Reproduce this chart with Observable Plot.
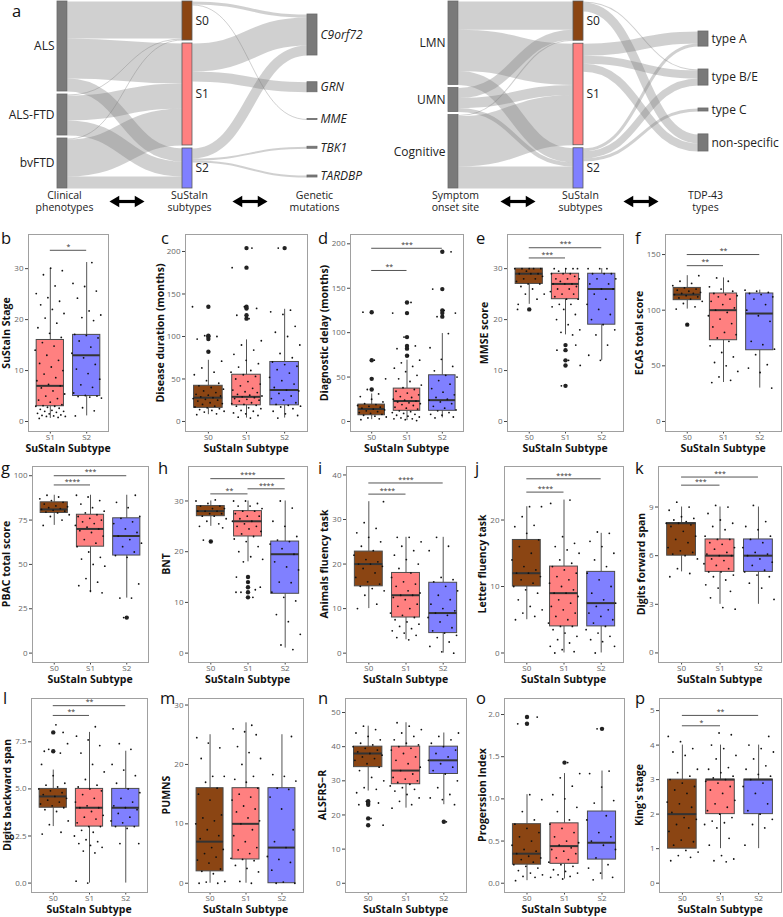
<!DOCTYPE html>
<html><head><meta charset="utf-8">
<script src="https://cdn.jsdelivr.net/npm/d3@7"></script>
<script src="https://cdn.jsdelivr.net/npm/@observablehq/plot@0.6"></script>
<style>
body{margin:0;background:#fff;}
#fig{position:relative;width:783px;height:917px;overflow:hidden;font-family:"Open Sans",sans-serif;background:#fff;}
.plot{position:absolute;}
.letter{position:absolute;font-size:16.5px;line-height:1;color:#111;}
.xt{position:absolute;font-weight:700;font-size:10.5px;line-height:1.1;white-space:nowrap;transform:translateX(-50%);color:#111;}
.yt{position:absolute;font-weight:700;font-size:10.5px;line-height:1.1;white-space:nowrap;transform:translate(-50%,-50%) rotate(-90deg);color:#111;}
</style></head><body><div id="fig"></div><script>
// ---------------- Sankey data ----------------
const phenotypes = ["ALS","ALS-FTD","bvFTD"];
const subtypes = ["S0","S1","S2"];
const genes = ["C9orf72","GRN","MME","TBK1","TARDBP"];
const phenoLinks = [["ALS","S0",37],["ALS","S1",40],["ALS","S2",13],["ALS-FTD","S0",1],["ALS-FTD","S1",25],["ALS-FTD","S2",15],["bvFTD","S0",1],["bvFTD","S1",37],["bvFTD","S2",12]];
const geneLinks = [["S0","C9orf72",3],["S0","MME",1],["S1","C9orf72",28],["S1","GRN",10],["S2","C9orf72",10],["S2","TBK1",2],["S2","TARDBP",2]];
const onsets = ["LMN","UMN","Cognitive"];
const tdpTypes = ["type A","type B/E","type C","non-specific"];
const onsetLinks = [["LMN","S0",28],["LMN","S1",41],["LMN","S2",14],["UMN","S0",10],["UMN","S1",10],["UMN","S2",4],["Cognitive","S0",1],["Cognitive","S1",50],["Cognitive","S2",22]];
const tdpLinks = [["S0","type B/E",1],["S0","non-specific",9],["S1","type A",12],["S1","type B/E",8],["S1","non-specific",8],["S2","type A",3],["S2","type B/E",7],["S2","type C",3]];
const leftTitles = [["Clinical","phenotypes"],["SuStaIn","subtypes"],["Genetic","mutations"]];
const rightTitles = [["Symptom","onset site"],["SuStaIn","subtypes"],["TDP-43","types"]];

// ---------------- Box plot data ----------------
// [group, whisker low, Q1, median, Q3, whisker high]
const b_box = [["S1",0.6,3,7,16,30],["S2",1.1,5,13,17,31.2]];
const b_out = {};
const b_pts = {S1:[0.6,0.8,1,1,1.1,1.2,1.3,1.5,1.6,1.8,2,2,2.2,2.4,2.6,2.8,3,3,3.1,3.3,3.8,4.2,4.5,5,5.4,6,6.6,7,7.3,8,8.6,9.3,10,10.7,11.4,12,13,14,14.8,15.5,16.5,17.3,18.4,19.3,20.3,21.2,22,22.9,23.6,24.3,25.1,26.6,28.8,29.6,30.1],
  S2:[1.1,2.1,2.7,4.6,4.8,4.9,5,5.1,5.6,6.7,7.2,8.3,9.4,10.3,11.2,12.5,13.4,14.6,15.8,16.4,16.9,17.1,19.8,20.4,20.9,21.7,24.2,25.6,26.5,27.1,31.2]};
const b_sig = [["S1","S2",33.6,"*"]];

const c_box = [["S0",8,16,28,42,72],["S1",4,19,29,55,96],["S2",4,19,37,70,132]];
const c_out = {S0:[82,97,100,101,135],S1:[121,125,133,135,181,204],S2:[204]};
const c_pts = {S0:[8,9,11,12,13,14,15,16,17,18,20,21,22,24,25,26,27,28,29,30,31,32,34,36,38,40,42,45,48,55,58,63,71],
  S1:[4,5,7,9,10,12,13,15,16,18,19,20,21,22,24,25,26,27,28,29,30,31,32,34,35,37,39,42,44,47,50,53,55,58,60,64,68,72,79,84,90,95],
  S2:[4,7,9,12,15,17,18,19,20,22,25,27,30,33,36,37,40,44,48,52,57,61,65,67,70,75,80,90,100,105,112,126,129,131]};
const c_sig = [];

const d_box = [["S0",2,7,14,19,31],["S1",1,12,23,37,69],["S2",4,12,24,52,99]];
const d_out = {S0:[36,48,69,123],S1:[74,82,85,95,122,134],S2:[118,122,125,149,191]};
const d_pts = {S0:[2,3,4,5,6,7,8,9,10,11,12,13,14,15,16,17,18,19,20,22,25,28,31],
  S1:[1,2,3,3,4,5,6,7,8,9,10,11,12,14,15,16,18,19,20,21,22,23,24,25,27,28,30,32,34,36,38,41,45,48,52,56,60,62,66,69],
  S2:[4,5,7,8,10,12,13,15,17,20,22,24,25,27,30,33,37,42,46,50,52,57,62,70,83,99]};
const d_sig = [["S0","S1",170,"**"],["S0","S2",195,"***"]];

const e_box = [["S0",23,27,29,30,30],["S1",17,24,27,29,30],["S2",12,19,26,29,30]];
const e_out = {S0:[22],S1:[7,11,12,14,15]};
const e_pts = {S0:[23,24,25,25,26,26.5,27,27,27.5,28,28,28.5,29,29,29,29.5,30,30,30,30,30],
  S1:[17,17.5,18,19,20,21,22,22.5,23,23,24,24,24.5,25,25,25.5,26,26,26.5,27,27,27,27.5,28,28,28,28.5,29,29,29,29.5,30,30,30,30],
  S2:[12,13,15,17,18,19,20,21,22,23,24,25,26,26,27,27,28,28,29,29,29,30,30,30]};
const e_sig = [["S0","S1",32.1,"***"],["S0","S2",34.1,"***"]];

const f_box = [["S0",101,109,114,120,131],["S1",35,73,100,115,129],["S2",30,64,97,115,118]];
const f_out = {S0:[87]};
const f_pts = {S0:[101,103,106,108,110,111,112,113,114,115,115,116,117,118,119,120,122,124,126,131],
  S1:[35,37,40,45,50,53,58,62,68,72,75,78,80,85,88,92,95,98,100,102,105,108,110,112,113,114,115,117,119,121,126,129],
  S2:[30,44,48,51,60,65,69,72,90,95,100,105,110,112,114,115,116,117,118]};
const f_sig = [["S0","S1",140,"**"],["S0","S2",150,"**"]];

const g_box = [["S0",72,79,81,85,89],["S1",34,60,70,78,89],["S2",31,55,66,76,89]];
const g_out = {S2:[20]};
const g_pts = {S0:[72,75,77,78,79,79.5,80,80.5,81,81.5,82,82.5,83,84,85,86,87,88,89],
  S1:[34,35,38,40,42,49,50,53,54,57,60,62,64,66,68,69,70,71,72,73,74,75,76,77,78,79,80,82,84,86,88,89],
  S2:[31,31,39,54,55,57,60,62,64,66,68,70,73,74,76,77,82,85,89]};
const g_sig = [["S0","S1",94.8,"****"],["S0","S2",100,"***"]];

const h_box = [["S0",25,27,28,29,30],["S1",18,23,26,28,30],["S2",1,11.7,19.5,22,30]];
const h_out = {S0:[22],S1:[11,12,13,14,15]};
const h_pts = {S0:[25,25.5,26,26.5,27,27,27.5,27.5,28,28,28,28.5,28.5,29,29,29.5,30,30.2,22.3,24.7],
  S1:[12,12.5,18,18.5,19,20,21,22,22.5,23,23.5,24,24.5,25,25,25.5,26,26,26.5,27,27,27.5,28,28,28.5,29,29,29.5,30,30],
  S2:[0.7,1.6,3.7,6.2,7.6,10.3,11,12,13.9,14,16.4,17,18,19.5,20.6,21.5,22,22.3,23,25,26,28.6,30]};
const h_sig = [["S0","S1",31.4,"**"],["S1","S2",32.4,"****"],["S0","S2",34.4,"****"]];

const i_box = [["S0",10,15,20,22.8,34],["S1",3,8,13,18,26],["S2",0,4.5,9,15.8,26]];
const i_out = {};
const i_pts = {S0:[10,11,13,14,14.5,15,15.5,16,17,18,19,19.5,20,20,20.5,21,22,23,24,25,26,27,28,29.3,34],
  S1:[3,3.5,4,4.5,5,5.5,6,6.5,7,7.5,8,8.5,9,10,10.5,11,12,12.5,13,13,13.5,14,15,15.5,16,17,18,19,20,21,22,23,24,25,26,26],
  S2:[0,0.3,1.5,2.5,3.5,4,4.5,5,5.7,7,8,8.5,9,9.5,10,11,12,13,14,15,16,16.5,17,23,24,26]};
const i_sig = [["S0","S1",35.7,"****"],["S0","S2",38.2,"****"]];

const j_box = [["S0",5,10,12,17,22],["S1",0,4,9,13,23],["S2",0,4,7.5,12.2,18]];
const j_out = {};
const j_pts = {S0:[5,5.5,6,6.5,7,8,9,9.5,10,10.5,11,11.5,12,12,12.5,13,14,15,16,17,18,19,19.2,20.5,22,22],
  S1:[0,0.2,0.5,1,1.5,2,2.5,3,3.5,4,4,4.5,5,5.5,6,6.5,7,7.5,8,8.5,9,9,9.5,10,10.5,11,11.5,12,12.5,13,13.5,14,15,15.5,16,16.5,17.5,22.5,23],
  S2:[0,1,1.7,2,2.5,3,3.5,4,4.5,5,5.5,6,6.5,7,7.5,8,9,10,11,12,13,14,15,16,16.8,18,18.2]};
const j_sig = [["S0","S1",24.2,"****"],["S0","S2",26.2,"****"]];

const k_box = [["S0",5,6,8,8,9],["S1",3,5,6,7,9],["S2",3,5,6,7,9]];
const k_out = {};
const k_pts = {S0:[4.7,4.9,5.2,5.8,6,6.1,6.2,6.3,6.5,6.8,7,7.2,7.5,7.8,7.9,8,8,8.1,8.2,8.3,8.4,8.8,9,9.3],
  S1:[2.7,2.8,3.4,3.8,4,4.2,4.5,4.7,4.8,5,5,5.2,5.4,5.5,5.7,5.8,6,6,6.1,6.2,6.4,6.5,6.7,6.8,7,7,7.2,7.6,7.8,8,8.2,8.6,9,9.1],
  S2:[3.3,4,4.3,4.7,4.8,5,5.1,5.4,5.6,5.8,6,6.1,6.2,6.5,6.8,7,7.2,7.6,7.8,8.1,9.1]};
const k_sig = [["S0","S1",10.35,"***"],["S0","S2",10.85,"***"]];

const l_box = [["S0",3,4,4.6,5,6],["S1",0,3,4,5,8],["S2",0,3,4,5,7]];
const l_out = {S0:[7,8]};
const l_pts = {S0:[2.6,2.7,3.1,3.3,3.8,3.9,4,4.1,4.2,4.3,4.4,4.5,4.6,4.7,4.8,4.9,5,5.1,5.2,5.3,5.7,6.3,6.9,7.1,7.4,8.4],
  S1:[0,0.1,1.6,1.7,1.9,2,2.1,2.2,2.3,2.5,2.7,2.8,3,3,3.2,3.4,3.5,3.6,3.8,4,4,4.1,4.3,4.5,4.7,4.9,5,5.1,5.2,5.5,5.9,6.3,6.9,7.3,7.6,7.8,8.3],
  S2:[2.1,2.1,2.9,3,3,3.2,3.3,3.5,3.7,3.9,4,4.1,4.3,4.5,4.8,5,5.3,5.7,6,6.3,7.1,7.4]};
const l_sig = [["S0","S1",8.9,"**"],["S0","S2",9.42,"**"]];

const m_box = [["S0",0,2,7,16,25],["S1",0,4,10,16,27],["S2",0,0,6,16,25]];
const m_out = {};
const m_pts = {S0:[0,0,0.2,0.3,1.6,2,2.4,3.4,3.9,4.4,5,5.7,6,7.5,8,9,10,10.5,11,11.5,14,15,16,17,18,18,21,22.8,23.6,24.5],
  S1:[0,0.3,1.9,2.5,3,3.8,4,4.2,5,5.6,6,7,8,9,10,10.5,11,12,12.5,13,14,14.5,15,16,17,17.5,18,20,21,22,23,25,25.5,26,26.6],
  S2:[0,0,0.2,2.2,3.5,4,4.5,6,7,9,12.5,14.5,15.8,16,17.2,18,18.3,24.7]};
const m_sig = [];

const n_box = [["S0",27,34,38,40,46],["S1",22,29,33,40,47],["S2",23,32,36,40,44]];
const n_out = {S0:[17,19,23,23.5,24],S2:[18]};
const n_pts = {S0:[26.5,27.5,28,30,31,33,34,35,36,36.5,37,37.5,38,38.5,39,39.5,40,40.5,41,42,43,44,45,46],
  S1:[22,23,24,25,26,27,27.5,28,28.5,29,29.5,30,30.5,31,32,33,34,35,36,37,38,39,39.5,40,40.5,41,42,43,44,45,46,47],
  S2:[23,24.5,25,26,28,30,32,33,34,35,36,37,38,39,40,41,42,43,44]};
const n_sig = [];

const o_box = [["S0",0.03,0.22,0.35,0.70,1.05],["S1",0.05,0.23,0.44,0.71,1.30],["S2",0.04,0.28,0.48,0.85,1.33]];
const o_out = {S0:[1.89,1.97],S1:[1.43],S2:[1.83]};
const o_pts = {S0:[0.03,0.07,0.08,0.1,0.12,0.15,0.18,0.2,0.22,0.25,0.28,0.3,0.32,0.35,0.38,0.4,0.45,0.5,0.55,0.6,0.65,0.7,0.75,0.85,0.99,1.05],
  S1:[0.05,0.07,0.08,0.1,0.12,0.14,0.16,0.2,0.22,0.25,0.28,0.3,0.35,0.38,0.4,0.42,0.45,0.48,0.5,0.55,0.6,0.65,0.7,0.75,0.85,0.9,1.0,1.05,1.15,1.25,1.3],
  S2:[0.04,0.07,0.12,0.18,0.22,0.3,0.4,0.45,0.5,0.55,0.6,0.75,0.8,0.95,0.98,1.14,1.3,1.33]};
const o_sig = [];

const p_box = [["S0",1,1,2,3,4],["S1",1,2,3,3,4],["S2",1,2,3,3,4]];
const p_out = {};
const p_pts = {S0:[0.65,0.75,0.8,0.9,0.95,1.1,1.2,1.25,1.5,1.6,1.7,1.85,1.9,2.05,2.2,2.3,2.35,2.6,2.7,2.8,2.9,3,3.1,3.2,3.3,3.7,3.8,3.9,4.1,4.25],
  S1:[0.62,0.65,0.7,0.8,1.1,1.3,1.6,1.7,1.75,1.8,1.9,2,2.1,2.2,2.3,2.4,2.6,2.7,2.8,2.9,2.95,3,3.05,3.1,3.2,3.3,3.35,3.6,3.7,3.9,4.0,4.3,4.35],
  S2:[1.1,1.6,1.7,1.85,2,2.1,2.3,2.6,2.8,2.9,3,3.1,3.15,3.3,3.4,3.6,3.8,3.9,4.0,4.25]};
const p_sig = [["S0","S1",4.56,"*"],["S0","S2",4.86,"**"]];

// ---------------- styles / layout ----------------
const groupColor = {S0:"#8b4513", S1:"#ff8080", S2:"#8080ff"};
const fig = document.getElementById("fig");
function place(el, left, top){ el.classList.add("plot"); el.style.left = left+"px"; el.style.top = top+"px"; fig.appendChild(el); }
function addDiv(cls, text, left, top){ const d = document.createElement("div"); d.className = cls; d.textContent = text; d.style.left = left+"px"; d.style.top = top+"px"; fig.appendChild(d); return d; }

// ---------------- Sankey ----------------
function sankeyLayout(cols, linkRows, colX, colExt){
  const nodes = new Map();
  cols.forEach((names,c)=>names.forEach(n=>nodes.set(n,{name:n,col:c,vin:0,vout:0,ins:[],outs:[]})));
  const links = linkRows.map(([s,t,v])=>({s:nodes.get(s),t:nodes.get(t),v}));
  links.forEach(l=>{l.s.vout+=l.v; l.t.vin+=l.v; l.s.outs.push(l); l.t.ins.push(l);});
  nodes.forEach(n=>n.value=Math.max(n.vin,n.vout));
  const gap = 3;
  const c0 = cols[0].map(n=>nodes.get(n));
  const k = (colExt[0][1]-colExt[0][0]-gap*(c0.length-1))/d3.sum(c0,n=>n.value);
  cols.forEach((names,c)=>{
    const ns = names.map(n=>nodes.get(n));
    const tot = d3.sum(ns,n=>n.value)*k;
    const [top,bot] = colExt[c];
    const g = ns.length>1 ? (bot-top-tot)/(ns.length-1) : 0;
    let y = top;
    ns.forEach(n=>{n.y0=y; n.y1=y+n.value*k; n.x0=colX[c][0]; n.x1=colX[c][1]; y=n.y1+g;});
  });
  nodes.forEach(n=>{
    let y=n.y0; n.outs.sort((a,b)=>a.t.y0-b.t.y0).forEach(l=>{l.sy=y+l.v*k/2; y+=l.v*k;});
    y=n.y0; n.ins.sort((a,b)=>a.s.y0-b.s.y0).forEach(l=>{l.ty=y+l.v*k/2; y+=l.v*k;});
  });
  return {nodes:[...nodes.values()], links, k};
}
function sankeyPlot(cols, linkRows, col2Ext, titles, italicRight, W){
  const colX = [[57,67],[182,192],[307,317]];
  const {nodes, links, k} = sankeyLayout(cols, linkRows, colX, [[1,188],[1,188],col2Ext]);
  const H = 215;
  const arrows = [0,1].map(i=>({c:(colX[i][1]+colX[i+1][0])/2+ (i===0?2:0)}));
  const heads = arrows.flatMap(a=>[{x:a.c-11,rot:-90},{x:a.c+11,rot:90}]);
  const colCenters = colX.map(c=>(c[0]+c[1])/2+2);
  const titleRows = titles.flatMap((pair,i)=>pair.map((t,line)=>({t,x:colCenters[i],line})));
  return Plot.plot({
    width: W, height: H, margin: 0,
    style:{fontFamily:"Open Sans", fontSize:"12px", background:"transparent", overflow:"visible"},
    x:{domain:[0,W], range:[0,W], axis:null},
    y:{domain:[0,H], range:[0,H], axis:null},
    color:{type:"identity"},
    marks:[
      Plot.link(links,{x1:d=>d.s.x1, y1:"sy", x2:d=>d.t.x0, y2:"ty", curve:"bump-x", stroke:"#7c7c7c", strokeOpacity:0.36, strokeWidth:d=>Math.max(0.9,d.v*k)}),
      Plot.rect(nodes,{x1:"x0", x2:"x1", y1:"y0", y2:d=>Math.max(d.y1,d.y0+1), fill:d=>d.col===1?groupColor[d.name]:"#7a7a7a", stroke:d=>d.col===1?"#5a5a5a":"#6a6a6a", strokeWidth:0.8}),
      Plot.text(nodes.filter(d=>d.col===0),{x:d=>d.x0-3, y:d=>(d.y0+d.y1)/2, text:"name", textAnchor:"end", fill:"#222"}),
      Plot.text(nodes.filter(d=>d.col===1),{x:d=>d.x1+3, y:d=>(d.y0+d.y1)/2, text:"name", textAnchor:"start", fill:"#222"}),
      Plot.text(nodes.filter(d=>d.col===2),{x:d=>d.x1+3, y:d=>(d.y0+d.y1)/2, text:"name", textAnchor:"start", fill:"#222", fontStyle: italicRight?"italic":"normal"}),
      Plot.text(titleRows,{x:"x", y:d=>195+d.line*12.5, text:"t", fontSize:10.5, fill:"#222"}),
      Plot.ruleY(arrows,{y:201, x1:d=>d.c-12, x2:d=>d.c+12, stroke:"#000", strokeWidth:3.2}),
      Plot.dot(heads,{x:"x", y:201, symbol:"triangle", r:4.2, rotate:"rot", fill:"#000", stroke:"none"})
    ]
  });
}
place(sankeyPlot([phenotypes, subtypes, genes], [...phenoLinks, ...geneLinks], [14,177], leftTitles, true, 390), 0, 0);
place(sankeyPlot([onsets, subtypes, tdpTypes], [...onsetLinks, ...tdpLinks], [31,151], rightTitles, false, 392), 391, 0);
addDiv("letter","a",12,3);

// ---------------- Box panels ----------------
const panels = [
  {key:"b", box:b_box, out:b_out, pts:b_pts, sig:b_sig, groups:["S1","S2"], ylabel:"SuStaIn Stage", dom:[-1.96,36.7], ticks:[0,10,20,30], frame:[28,234,108,431], let:[1,230], ytx:21},
  {key:"c", box:c_box, out:c_out, pts:c_pts, sig:c_sig, groups:subtypes, ylabel:"Disease duration (months)", dom:[-11.8,220], ticks:[0,50,100,150,200], frame:[185,234,307,431], let:[161,230], ytx:24},
  {key:"d", box:d_box, out:d_out, pts:d_pts, sig:d_sig, groups:subtypes, ylabel:"Diagnostic delay (months)", dom:[-11.3,210.5], ticks:[0,50,100,150,200], frame:[350,234,463,431], let:[318,230], ytx:25},
  {key:"e", box:e_box, out:e_out, pts:e_pts, sig:e_sig, groups:subtypes, ylabel:"MMSE score", dom:[-1.96,36.7], ticks:[0,10,20,30], frame:[507,234,623,431], let:[476,230], ytx:22},
  {key:"f", box:f_box, out:f_out, pts:f_pts, sig:f_sig, groups:subtypes, ylabel:"ECAS total score", dom:[-9,168], ticks:[0,50,100,150], frame:[665,234,781,431], let:[635,230], ytx:25},
  {key:"g", box:g_box, out:g_out, pts:g_pts, sig:g_sig, groups:subtypes, ylabel:"PBAC total score", dom:[-5.3,105.2], ticks:[0,25,50,75,100], frame:[32,466,148,662], let:[1,460], ytx:25},
  {key:"h", box:h_box, out:h_out, pts:h_pts, sig:h_sig, groups:subtypes, ylabel:"BNT", dom:[-1.85,36.8], ticks:[0,10,20,30], frame:[188,466,307,662], let:[158,460], ytx:21},
  {key:"i", box:i_box, out:i_out, pts:i_pts, sig:i_sig, groups:subtypes, ylabel:"Animals fluency task", dom:[-2.1,41.9], ticks:[0,10,20,30,40], frame:[346,466,465,662], let:[318,460], ytx:21},
  {key:"j", box:j_box, out:j_out, pts:j_pts, sig:j_sig, groups:subtypes, ylabel:"Letter fluency task", dom:[-1.43,28.05], ticks:[0,10,20], frame:[504,466,623,662], let:[475,460], ytx:21},
  {key:"k", box:k_box, out:k_out, pts:k_pts, sig:k_sig, groups:subtypes, ylabel:"Digits forward span", dom:[-0.59,11.5], ticks:[0,3,6,9], frame:[658,466,781,662], let:[635,460], ytx:16},
  {key:"l", box:l_box, out:l_out, pts:l_pts, sig:l_sig, groups:subtypes, ylabel:"Digits backward span", dom:[-0.5,9.8], ticks:[0,2.5,5,7.5], fmt:d3.format(".1f"), frame:[31,698,147,892], let:[3,690], ytx:23},
  {key:"m", box:m_box, out:m_out, pts:m_pts, sig:m_sig, groups:subtypes, ylabel:"PUMNS", dom:[-1.56,31.1], ticks:[0,10,20,30], frame:[188,698,303,892], let:[160,690], ytx:21},
  {key:"n", box:n_box, out:n_out, pts:n_pts, sig:n_sig, groups:subtypes, ylabel:"ALSFRS\u2212R", dom:[-2.7,54.1], ticks:[0,10,20,30,40,50], frame:[345,698,466,892], let:[318,690], ytx:22},
  {key:"o", box:o_box, out:o_out, pts:o_pts, sig:o_sig, groups:subtypes, ylabel:"Progerssion Index", dom:[-0.11,2.19], ticks:[0,0.5,1,1.5,2], fmt:d3.format(".1f"), frame:[504,698,624,892], let:[476,690], ytx:21},
  {key:"p", box:p_box, out:p_out, pts:p_pts, sig:p_sig, groups:subtypes, ylabel:"King's stage", dom:[-0.27,5.35], ticks:[0,1,2,3,4,5], frame:[659,698,781,892], let:[635,690], ytx:19}
];
const jitter = i => (((i*0.6180339887 + 0.137) % 1) - 0.5) * 0.84;
function boxPanel(P){
  const [fx1,fy1,fx2,fy2] = P.frame;
  const ML=30, MT=2, MR=1, MB=12;
  const W = fx2-fx1+ML+MR, H = fy2-fy1+MT+MB;
  const n = P.groups.length;
  const pos = g => P.groups.indexOf(g)+1;
  const boxes = P.box.map(([g,lo,q1,med,q3,hi])=>({g,pos:pos(g),lo,q1,med,q3,hi}));
  const outs = Object.entries(P.out).flatMap(([g,vs])=>vs.map(v=>({pos:pos(g),v})));
  let idx = 0;
  const pts = P.groups.flatMap(g=>[...(P.pts[g]||[]), ...(P.out[g]||[])].map(v=>({x:pos(g)+jitter(idx++), v})));
  const sigs = P.sig.map(([a,b,y,label])=>({x1:pos(a),x2:pos(b),y,label}));
  const hw = 0.375;
  const svg = Plot.plot({
    width:W, height:H, marginLeft:ML, marginTop:MT, marginRight:MR, marginBottom:MB,
    style:{fontFamily:"Open Sans", fontSize:"8px", background:"transparent", overflow:"visible"},
    x:{domain:[0.4, n+0.6], axis:null, label:null},
    y:{domain:P.dom, axis:null, label:null},
    color:{type:"identity"},
    marks:[
      Plot.ruleX(boxes,{x:"pos", y1:"lo", y2:"q1", stroke:"#555"}),
      Plot.ruleX(boxes,{x:"pos", y1:"q3", y2:"hi", stroke:"#555"}),
      Plot.rect(boxes,{x1:d=>d.pos-hw, x2:d=>d.pos+hw, y1:"q1", y2:"q3", fill:d=>groupColor[d.g], stroke:"#4a4a4a", strokeWidth:1}),
      Plot.ruleY(boxes,{y:"med", x1:d=>d.pos-hw, x2:d=>d.pos+hw, stroke:"#333", strokeWidth:2}),
      Plot.dot(outs,{x:"pos", y:"v", r:2.2, fill:"#222", stroke:"none"}),
      Plot.dot(pts,{x:"x", y:"v", r:0.9, fill:"#111", stroke:"none"}),
      Plot.ruleY(sigs,{y:"y", x1:"x1", x2:"x2", stroke:"#555"}),
      Plot.text(sigs,{x:d=>(d.x1+d.x2)/2, y:"y", text:"label", dy:-3.5, fontSize:7, fill:"#333"}),
      Plot.axisY({ticks:P.ticks, tickFormat:P.fmt||(d=>String(d)), tickSize:3, tickPadding:2, label:null, fill:"#666", stroke:"#444"}),
      Plot.axisX({ticks:d3.range(1,n+1), tickFormat:d=>P.groups[d-1], tickSize:2.5, tickPadding:0, label:null, fill:"#666", stroke:"#444"}),
      Plot.frame({stroke:"#a0a0a0"})
    ]
  });
  place(svg, fx1-ML, fy1-MT);
  addDiv("letter", P.key, P.let[0], P.let[1]);
  addDiv("xt", "SuStaIn Subtype", (fx1+fx2)/2, fy2+12);
  addDiv("yt", P.ylabel, fx1-P.ytx, (fy1+fy2)/2);
}
panels.forEach(boxPanel);
</script></body></html>
